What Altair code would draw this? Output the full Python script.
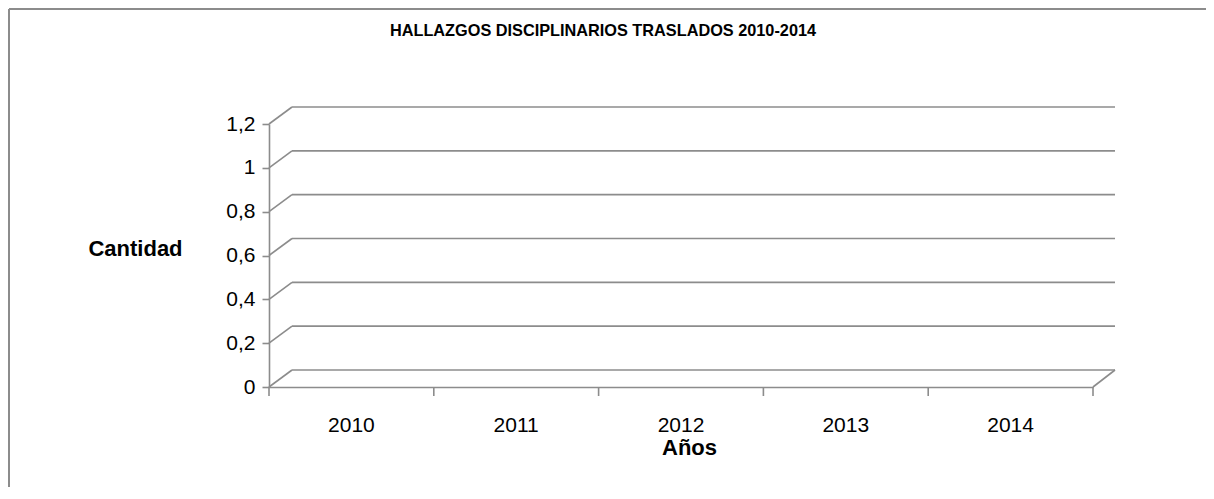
import altair as alt
import pandas as pd

# ---- data ----
title_text = "HALLAZGOS DISCIPLINARIOS TRASLADOS 2010-2014"
years = ["2010", "2011", "2012", "2013", "2014"]
counts = [0, 0, 0, 0, 0]
y_ticks = [0, 0.2, 0.4, 0.6, 0.8, 1.0, 1.2]
y_title = "Cantidad"
x_title = "Años"

# ---- styles ----
W, H = 824, 263
PAD_L, PAD_T, PAD_R, PAD_B = 261, 116, 113, 100
DX, DY = 23, -17
GRAY = "#8c8c8c"
LW = 1.6
FONT = "Liberation Sans"

df = pd.DataFrame({"year": years, "count": counts})
df_last = df.tail(1)
df_grid = pd.DataFrame({"v": y_ticks})
df_title = pd.DataFrame({"t": [title_text]})

xscale = alt.Scale(domain=years, paddingInner=0, paddingOuter=0)
yscale = alt.Scale(domain=[0, 1.2])

bars = alt.Chart(df).mark_bar(color="#4f81bd").encode(
    x=alt.X("year:N", scale=xscale, sort=years,
            axis=alt.Axis(title=x_title, ticks=False, labelAngle=0, labelAlign="center",
                          labelBaseline="middle",
                          labelFontSize=21, labelColor="black", labelPadding=38,
                          domainColor=GRAY, domainWidth=LW,
                          titleFontSize=22, titleFontWeight="bold", titleColor="black",
                          titleX=420, titleY=60, titleAlign="center",
                          titleBaseline="middle")),
    y=alt.Y("count:Q", scale=yscale,
            axis=alt.Axis(title=y_title, values=y_ticks, grid=False,
                          labelExpr="replace(format(datum.value, '.1~f'), '.', ',')",
                          labelFontSize=21, labelColor="black", labelPadding=7,
                          tickSize=7, tickColor=GRAY, tickWidth=LW,
                          domainColor=GRAY, domainWidth=LW,
                          titleFontSize=22, titleFontWeight="bold", titleColor="black",
                          titleAngle=0, titleX=-134, titleY=124,
                          titleAlign="center", titleBaseline="middle")),
)

# x ticks at band boundaries
xticks = alt.Chart(df).mark_rule(color=GRAY, strokeWidth=LW).encode(
    x=alt.X("year:N", scale=xscale, bandPosition=0),
    y=alt.value(H), y2=alt.value(H + 9),
)
xtick_last = alt.Chart(df_last).mark_rule(color=GRAY, strokeWidth=LW).encode(
    x=alt.X("year:N", scale=xscale, bandPosition=1),
    y=alt.value(H), y2=alt.value(H + 9),
)

# perspective gridlines: side diagonal + back horizontal
diag = alt.Chart(df_grid).mark_rule(color=GRAY, strokeWidth=LW, y2Offset=DY).encode(
    x=alt.value(0), x2=alt.value(DX),
    y=alt.Y("v:Q", scale=yscale), y2="v:Q",
)
back = alt.Chart(df_grid).mark_rule(color=GRAY, strokeWidth=LW, yOffset=DY).encode(
    x=alt.value(DX), x2=alt.value(W + DX - 1),
    y=alt.Y("v:Q", scale=yscale),
)
floor_right = alt.Chart(df_last).mark_rule(color=GRAY, strokeWidth=LW, y2Offset=DY).encode(
    x=alt.value(W), x2=alt.value(W + DX - 1),
    y=alt.datum(0, scale=yscale), y2=alt.datum(0),
)

title = alt.Chart(df_title).mark_text(fontSize=16.3, fontWeight="bold", color="black",
                                      font=FONT).encode(
    text="t:N", x=alt.value(334), y=alt.value(-93),
)

# outer frame
frame_left = alt.Chart(df_title).mark_rule(color=GRAY, strokeWidth=2).encode(
    x=alt.value(-PAD_L + 1), y=alt.value(-PAD_T + 1), y2=alt.value(H + PAD_B),
)
frame_top = alt.Chart(df_title).mark_rule(color=GRAY, strokeWidth=2).encode(
    y=alt.value(-PAD_T + 1), x=alt.value(-PAD_L + 1), x2=alt.value(W + PAD_R),
)

chart = alt.layer(
    frame_left, frame_top, diag, back, floor_right, xticks, xtick_last, bars, title
).properties(
    width=W, height=H,
    autosize=alt.AutoSizeParams(type="none"),
    padding={"left": PAD_L, "top": PAD_T, "right": PAD_R, "bottom": PAD_B},
).configure(font=FONT).configure_view(stroke=None)

chart.save("out.html", embed_options={"renderer": "svg", "actions": False})
